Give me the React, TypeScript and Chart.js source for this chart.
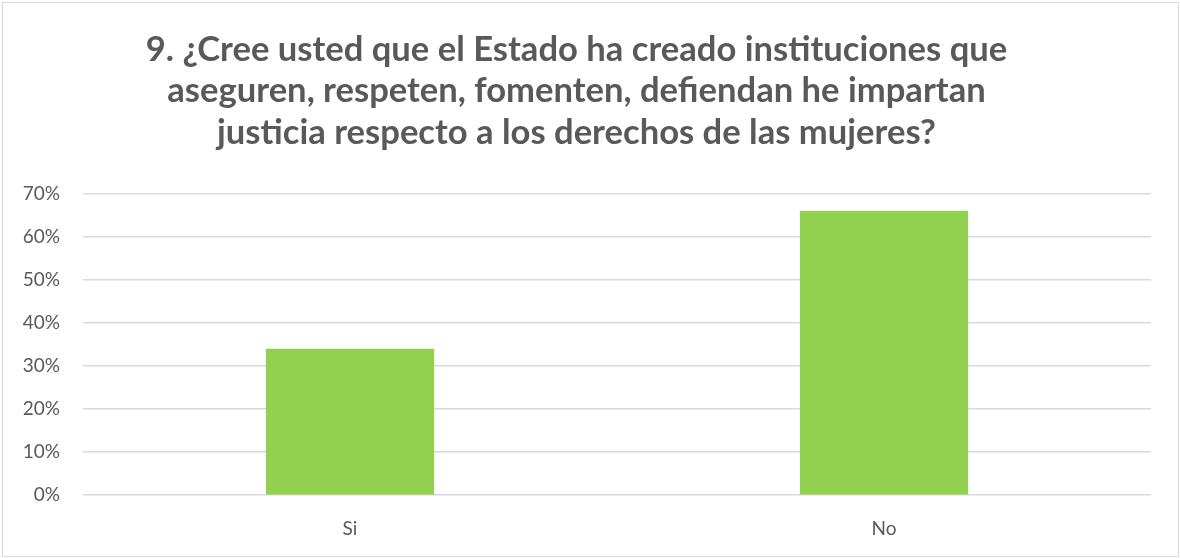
import React, { useEffect, useRef } from "react";
import { Chart, registerables } from "chart.js";

Chart.register(...registerables);

const categories = ["Si", "No"];
const values = [0.34, 0.66];
const titleLines = [
  "9. ¿Cree usted que el Estado ha creado instituciones que",
  "aseguren, respeten, fomenten, defiendan he impartan",
  "justicia respecto a los derechos de las mujeres?",
];
const yMax = 0.7;
const yStep = 0.1;

const borderPlugin = {
  id: "outerBorder",
  afterDraw(chart: any) {
    const { ctx, width, height } = chart;
    ctx.save();
    ctx.strokeStyle = "#d9d9d9";
    ctx.lineWidth = 1;
    ctx.strokeRect(2.5, 2.5, width - 4, height - 4);
    ctx.restore();
  },
};

export default function App() {
  const ref = useRef<HTMLCanvasElement | null>(null);
  useEffect(() => {
    document.body.style.margin = "0";
    const chart = new Chart(ref.current as HTMLCanvasElement, {
      type: "bar",
      data: {
        labels: categories,
        datasets: [
          {
            data: values,
            backgroundColor: "#92d050",
            categoryPercentage: 1,
            barPercentage: 0.315,
          },
        ],
      },
      options: {
        animation: false,
        responsive: false,
        layout: { padding: { left: 2, right: 29, bottom: -4, top: 0 } },
        plugins: {
          legend: { display: false },
          tooltip: { enabled: false },
          title: {
            display: true,
            text: titleLines,
            color: "#595959",
            font: { family: "Lato", size: 34.6, weight: "bold", lineHeight: 1.2 },
            padding: { top: 29, bottom: 40 },
          },
        },
        scales: {
          x: {
            grid: { display: false, drawTicks: false },
            border: { display: false },
            ticks: { color: "#595959", font: { family: "Lato", size: 19 }, padding: 22 },
          },
          y: {
            min: 0,
            max: yMax,
            grid: { color: "#d9d9d9", lineWidth: 1.5, drawTicks: false },
            border: { display: false },
            ticks: {
              stepSize: yStep,
              color: "#595959",
              font: { family: "Lato", size: 19 },
              padding: 23,
              callback: (v: any) => Math.round(Number(v) * 100) + "%",
            },
            afterFit(scale: any) {
              scale.width = 81;
            },
          },
        },
      },
      plugins: [borderPlugin],
    });
    return () => chart.destroy();
  }, []);
  return <canvas ref={ref} width={1180} height={558} style={{ display: "block" }} />;
}
